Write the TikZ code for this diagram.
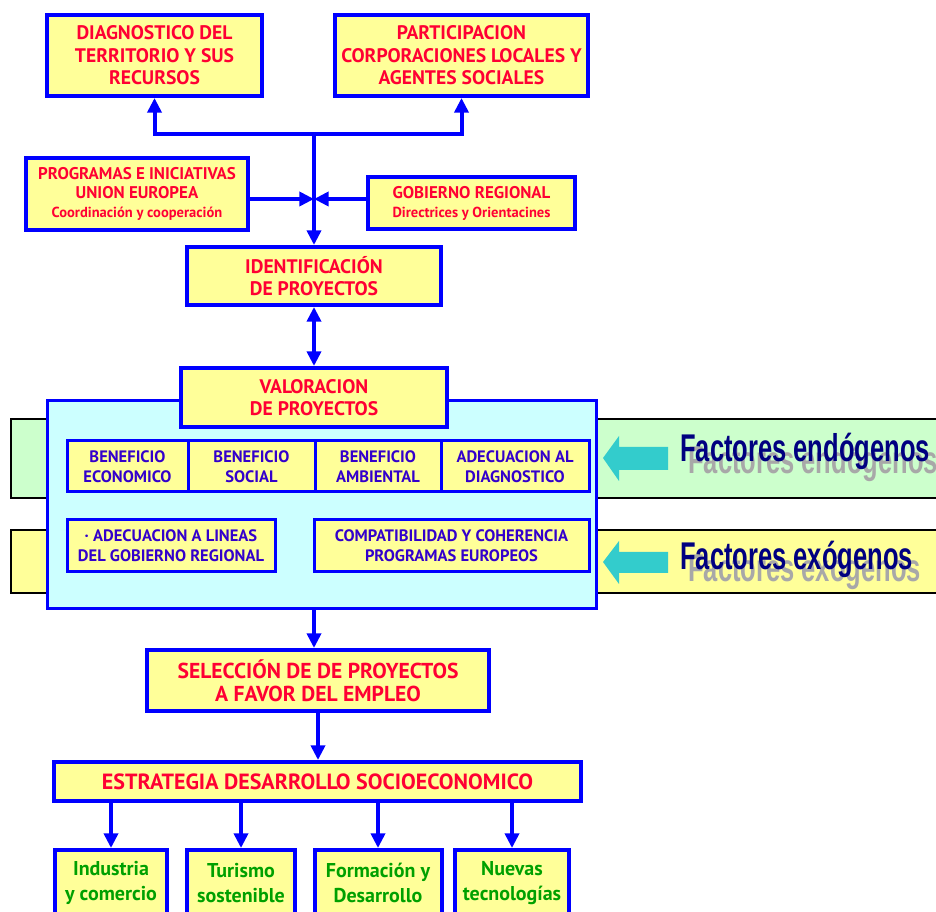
\documentclass[tikz,border=0pt]{standalone}
\usepackage{fontspec}
\setmainfont{PT Sans}
\newfontfamily\factfont[FakeStretch=0.66]{Liberation Sans}
\usetikzlibrary{arrows.meta}

\definecolor{boxblue}{HTML}{0000FF}
\definecolor{boxyellow}{HTML}{FFFF99}
\definecolor{boxred}{HTML}{FF0033}
\definecolor{rowviolet}{HTML}{3300CC}
\definecolor{boxgreen}{HTML}{00A000}
\definecolor{panelcyan}{HTML}{CCFFFF}
\definecolor{bandgreen}{HTML}{CCFFCC}
\definecolor{bandyellow}{HTML}{FFFF99}
\definecolor{arrowcyan}{HTML}{33CCCC}
\definecolor{factnavy}{HTML}{000080}
\definecolor{shadowgray}{HTML}{A8A8A8}

\newcommand\txtbig{\bfseries\fontsize{14.7}{16.8}\selectfont}
\newcommand\txtmid{\bfseries\fontsize{12.7}{14.2}\selectfont}
\newcommand\txtsmall{\fontsize{10.9}{14.2}\selectfont}
\newcommand\txtrow{\bfseries\fontsize{12.4}{15}\selectfont}
\newcommand\txtsel{\bfseries\fontsize{16.2}{17.5}\selectfont}
\newcommand\txtestr{\bfseries\fontsize{16.5}{18}\selectfont}
\newcommand\txtgreen{\bfseries\fontsize{15}{19}\selectfont}

\begin{document}
\begin{tikzpicture}[x=0.75pt,y=0.75pt,yscale=-1,xscale=1,
    wh/.style 2 args={minimum width=#1*0.75pt,minimum height=#2*0.75pt},
    redbox/.style={draw=boxblue,line width=3pt,fill=boxyellow,text=boxred,align=center,inner sep=0pt},
    rowbox/.style={draw=boxblue,line width=2.25pt,fill=boxyellow,text=rowviolet,align=center,inner sep=0pt,font=\txtrow},
    greenbox/.style={redbox,text=boxgreen,font=\txtgreen},
    conn/.style={draw=boxblue,line width=3pt,-{Triangle[length=11pt,width=10.5pt]}},
    band/.style={draw=black,line width=1.5pt},
    factors/.style={anchor=base west,inner sep=0pt,font=\factfont\bfseries\fontsize{29}{33}\selectfont}]
    \useasboundingbox (0,0) rectangle (936,912);
    \clip (0,0) rectangle (936,912);

    %Shape: Rectangle
    \node[redbox,wh={215}{81},font=\txtbig] (diag) at (154.5,55.5) {DIAGNOSTICO DEL\\TERRITORIO Y SUS\\RECURSOS};
    %Shape: Rectangle
    \node[redbox,wh={253}{81},font=\txtbig] (partic) at (461.5,55.5) {PARTICIPACION\\CORPORACIONES LOCALES Y\\AGENTES SOCIALES};
    %Shape: Rectangle
    \node[redbox,wh={222}{72},font=\txtmid] (progr) at (137,194) {PROGRAMAS E INICIATIVAS\\UNION EUROPEA\\{\txtsmall Coordinación y cooperación}};
    %Shape: Rectangle
    \node[redbox,wh={207}{52},font=\txtmid] (gobier) at (471.5,203) {GOBIERNO REGIONAL\\{\txtsmall Directrices y Orientacines}};
    %Shape: Rectangle
    \node[redbox,wh={254}{58},font=\txtbig] (ident) at (314,276) {IDENTIFICACIÓN\\DE PROYECTOS};

    \coordinate (split) at (314,134);
    \coordinate (merge) at (314,199);
    %Straight Lines
    \draw[conn] (split) -| (diag.south);
    %Straight Lines
    \draw[conn] (split) -| (partic.south);
    %Straight Lines
    \draw[conn] (split) -- (ident.north);
    %Straight Lines
    \draw[conn] (progr.east |- merge) -- (merge);
    %Straight Lines
    \draw[conn] (gobier.west |- merge) -- (merge);

    %Shape: Rectangle
    \draw[band,fill=bandgreen] (11,419) rectangle (950,498);
    %Shape: Rectangle
    \draw[band,fill=bandyellow] (11,530) rectangle (950,593);

    %Shape: Rectangle
    \node[draw=boxblue,line width=2.25pt,fill=panelcyan,wh={549}{208},inner sep=0pt] (panel) at (321.5,505) {};
    %Shape: Rectangle
    \node[redbox,wh={266}{59},font=\txtbig] (valor) at (314,397.5) {VALORACION\\DE PROYECTOS};
    %Straight Lines
    \draw[conn,{Triangle[length=11pt,width=10.5pt]}-{Triangle[length=11pt,width=10.5pt]}] (ident.south) -- (valor.north);

    %Shape: Rectangle
    \node[rowbox,wh={121}{51}] (beneco) at (127.5,466.5) {BENEFICIO\\ECONOMICO};
    %Shape: Rectangle
    \node[rowbox,wh={127}{51}] (bensoc) at (251.5,466.5) {BENEFICIO\\SOCIAL};
    %Shape: Rectangle
    \node[rowbox,wh={126}{51}] (benamb) at (378,466.5) {BENEFICIO\\AMBIENTAL};
    %Shape: Rectangle
    \node[rowbox,wh={148}{51}] (adecdiag) at (515,466.5) {ADECUACION AL\\DIAGNOSTICO};
    %Shape: Rectangle
    \node[rowbox,wh={208}{52}] (lineas) at (171,546) {· ADECUACION A LINEAS\\DEL GOBIERNO REGIONAL};
    %Shape: Rectangle
    \node[rowbox,wh={275}{52}] (compat) at (451.5,546) {COMPATIBILIDAD Y COHERENCIA\\PROGRAMAS EUROPEOS};

    %Shape: Arrow
    \fill[arrowcyan] (603,458) -- (619,436) -- (619,447) -- (668,447) -- (668,470) -- (619,470) -- (619,481) -- cycle;
    %Shape: Arrow
    \fill[arrowcyan] (603,562) -- (619,541) -- (619,552) -- (668,552) -- (668,573) -- (619,573) -- (619,584) -- cycle;

    % Text Node
    \node[factors,text=shadowgray] (endoshade) at (688,474) {Factores endógenos};
    % Text Node
    \node[factors,text=factnavy] (endo) at (680,462) {Factores endógenos};
    % Text Node
    \node[factors,text=shadowgray] (exoshade) at (688,582) {Factores exógenos};
    % Text Node
    \node[factors,text=factnavy] (exo) at (680,570) {Factores exógenos};

    %Shape: Rectangle
    \node[redbox,wh={342}{61},font=\txtsel] (selec) at (318,680.5) {SELECCIÓN DE DE PROYECTOS\\A FAVOR DEL EMPLEO};
    %Straight Lines
    \draw[conn] (panel.south -| valor) -- (selec.north -| valor);
    %Shape: Rectangle
    \node[redbox,wh={527}{39},font=\txtestr] (estrat) at (317.5,781.5) {ESTRATEGIA DESARROLLO SOCIOECONOMICO};
    %Straight Lines
    \draw[conn] (selec.south) -- (estrat.north -| selec.south);

    %Shape: Rectangle
    \node[greenbox,wh={112}{66}] (indus) at (111,883) {Industria\\y comercio};
    %Shape: Rectangle
    \node[greenbox,wh={108}{66}] (turis) at (241,883) {Turismo\\sostenible};
    %Shape: Rectangle
    \node[greenbox,wh={127}{66}] (formac) at (378,883) {Formación y\\Desarrollo};
    %Shape: Rectangle
    \node[greenbox,wh={114}{66}] (nuevas) at (512,883) {Nuevas\\tecnologías};
    %Straight Lines
    \draw[conn] (estrat.south -| indus.north) -- (indus.north);
    %Straight Lines
    \draw[conn] (estrat.south -| turis.north) -- (turis.north);
    %Straight Lines
    \draw[conn] (estrat.south -| formac.north) -- (formac.north);
    %Straight Lines
    \draw[conn] (estrat.south -| nuevas.north) -- (nuevas.north);

\end{tikzpicture}
\end{document}
